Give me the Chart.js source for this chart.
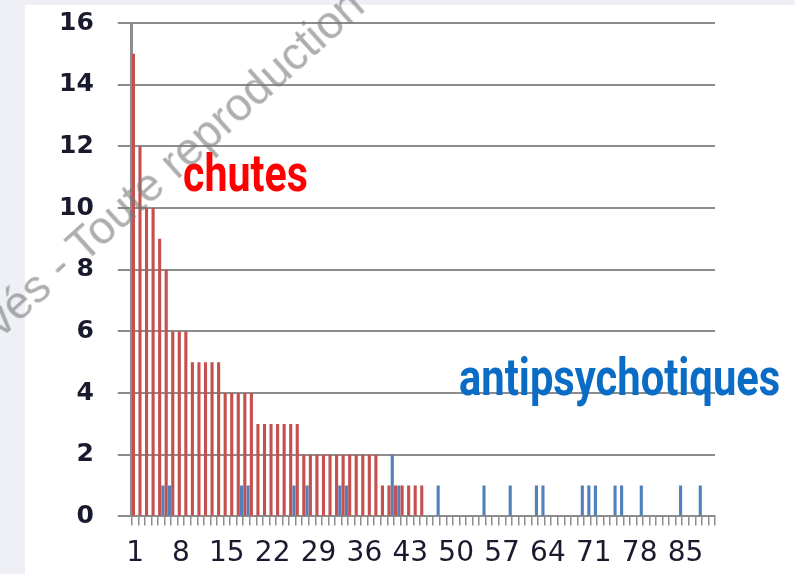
<!DOCTYPE html>
<html>
<head>
<meta charset="utf-8">
<script src="https://cdn.jsdelivr.net/npm/chart.js@4"></script>
<style>
  html, body { margin: 0; padding: 0; }
  body { width: 795px; height: 574px; background: #eef0f6; position: relative; overflow: hidden; }
  #panel { position: absolute; left: 25px; top: 5px; right: 0; bottom: 0; background: #fff; }
  #chart { position: absolute; left: 0; top: -16px; }
  .note { position: absolute; font-family: Roboto, sans-serif; font-weight: 700; font-size: 52px;
          line-height: 1; white-space: nowrap; transform-origin: 0 0; }
  #wm { position: absolute; font-family: "Liberation Sans", Arial, sans-serif; font-size: 46px;
        line-height: 46px; color: rgba(120, 120, 120, 0.6); white-space: nowrap; pointer-events: none; }
</style>
</head>
<body>
<div id="panel"></div>
<canvas id="chart" width="795" height="600"></canvas>
<div class="note" id="noteChutes" style="left:183px; top:148px; color:#ff0000;">chutes</div>
<div class="note" id="noteAnti" style="left:459px; top:352px; color:#0a6cc4;">antipsychotiques</div>
<div id="wm">Tous droits réservés - <span id="wmAnchor">Toute</span> reproduction interdite</div>
<script>
// categories 1..89
const categories = [1,2,3,4,5,6,7,8,9,10,11,12,13,14,15,16,17,18,19,20,21,22,23,24,25,26,27,28,29,30,
    31,32,33,34,35,36,37,38,39,40,41,42,43,44,45,46,47,48,49,50,51,52,53,54,55,56,57,58,59,60,
    61,62,63,64,65,66,67,68,69,70,71,72,73,74,75,76,77,78,79,80,81,82,83,84,85,86,87,88,89];

const xTickLabels = ["1", "8", "15", "22", "29", "36", "43", "50", "57", "64", "71", "78", "85"];

// chutes (red)
const chutes = [15,12,10,10,9,8,6,6,6,5,5,5,5,5,4,4,4,4,4,3,3,3,3,3,3,3,
    2,2,2,2,2,2,2,2,2,2,2,2,1,1,1,1,1,1,1,
    0,0,0,0,0,0,0,0,0,0,0,0,0,0,0,0,0,0,0,0,0,0,0,0,0,0,0,0,0,0,0,0,0,0,0,0,0,0,0,0,0,0,0,0];

// antipsychotiques (blue)
const antipsychotiques = [0,0,0,0,1,1,0,0,0,0,0,0,0,0,0,0,1,1,0,0,0,0,0,0,1,0,1,0,0,0,
    0,1,1,0,0,0,0,0,0,2,1,0,0,0,0,0,1,0,0,0,0,0,0,1,0,0,0,1,0,0,
    0,1,1,0,0,0,0,0,1,1,1,0,0,1,1,0,0,1,0,0,0,0,0,1,0,0,1,0,0];

const yTicks = { min: 0, max: 16, step: 2 };

const ctx = document.getElementById("chart").getContext("2d");
new Chart(ctx, {
    type: "bar",
    data: {
        labels: categories,
        datasets: [{
            label: "chutes",
            data: chutes,
            backgroundColor: "#c4514f",
            categoryPercentage: 1.0,
            barPercentage: 0.95,
        }, {
            label: "antipsychotiques",
            data: antipsychotiques,
            backgroundColor: "#4f81bd",
            categoryPercentage: 1.0,
            barPercentage: 0.95,
        }]
    },
    options: {
        responsive: false,
        animation: false,
        layout: { padding: { left: 35, right: 80, top: 6, bottom: 1 } },
        plugins: {
            legend: { display: false },
            tooltip: { enabled: false },
        },
        scales: {
            x: {
                grid: { drawOnChartArea: false, tickLength: 9, color: "#8f8f8f", lineWidth: 1.5 },
                border: { color: "#8c8c8c", width: 2 },
                ticks: {
                    autoSkip: false,
                    maxRotation: 0,
                    minRotation: 0,
                    padding: 12,
                    color: "#1a1a2e",
                    font: { family: "DejaVu Sans", size: 28 },
                    callback: function (value) {
                        const l = String(this.getLabelForValue(value));
                        return xTickLabels.includes(l) ? l : "";
                    }
                }
            },
            y: {
                min: yTicks.min,
                max: yTicks.max,
                ticks: {
                    stepSize: yTicks.step,
                    padding: 24,
                    color: "#1a1a2e",
                    font: { family: "DejaVu Sans", size: 25, weight: "bold" }
                },
                grid: { color: "#8c8c8c", lineWidth: 2, tickLength: 14 },
                border: { color: "#8c8c8c", width: 3 }
            }
        }
    }
});

// squeeze the annotation texts to the condensed look
function fitWidth(id, target) {
    const el = document.getElementById(id);
    el.style.transform = "scaleX(" + (target / el.offsetWidth) + ")";
}
fitWidth("noteChutes", 125);
fitWidth("noteAnti", 321);

// watermark, rotated around the start of "Toute"
const wm = document.getElementById("wm");
const ax = document.getElementById("wmAnchor").offsetLeft;
const baseY = 39;
wm.style.left = (84 - ax) + "px";
wm.style.top = (264 - baseY) + "px";
wm.style.transformOrigin = ax + "px " + baseY + "px";
wm.style.transform = "rotate(-42deg)";
</script>
</body>
</html>
